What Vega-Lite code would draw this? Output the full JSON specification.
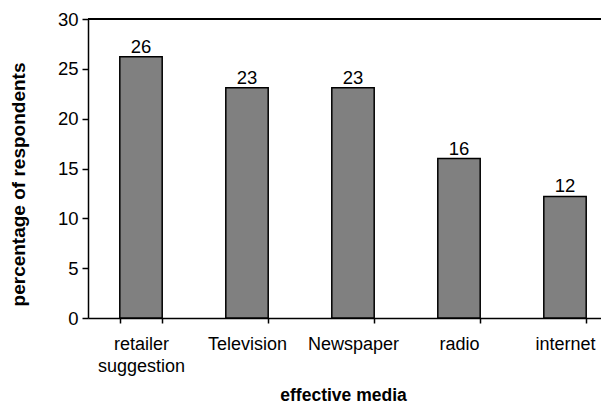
{
  "$schema": "https://vega.github.io/schema/vega-lite/v6.json",
  "width": 513,
  "height": 299,
  "autosize": {"type": "none"},
  "padding": {"left": 88, "top": 19, "right": 0, "bottom": 86},
  "background": "white",
  "config": {"view": {"stroke": null}},
  "data": {
    "values": [
      {"media": "retailer suggestion", "pct": 26.2},
      {"media": "Television", "pct": 23.1},
      {"media": "Newspaper", "pct": 23.1},
      {"media": "radio", "pct": 16.0},
      {"media": "internet", "pct": 12.2}
    ]
  },
  "layer": [
    {
      "mark": {"type": "bar", "color": "#808080", "stroke": "black", "strokeWidth": 1.5},
      "encoding": {
        "x": {
          "field": "media",
          "type": "nominal",
          "sort": null,
          "scale": {"range": [0, 530], "paddingInner": 0.6, "paddingOuter": 0.3},
          "axis": {
            "title": "effective media",
            "titleFont": "Liberation Sans",
            "titleFontWeight": "bold",
            "titleFontSize": 17.5,
            "titleColor": "black",
            "titleX": 255,
            "titleY": 77,
            "titleBaseline": "middle",
            "titleAlign": "center",
            "labelAngle": 0,
            "labelFont": "Liberation Sans",
            "labelFontSize": 18,
            "labelColor": "black",
            "labelBaseline": "alphabetic",
            "labelPadding": 26,
            "labelLineHeight": 22,
            "labelExpr": "datum.value == 'retailer suggestion' ? ['retailer', 'suggestion'] : datum.label",
            "tickBand": "extent",
            "tickSize": 5,
            "tickColor": "black",
            "tickWidth": 1.5,
            "domainColor": "black",
            "domainWidth": 1.5,
            "grid": false
          }
        },
        "y": {
          "field": "pct",
          "type": "quantitative",
          "scale": {"domain": [0, 30], "nice": false},
          "axis": {
            "title": "percentage of respondents",
            "titleFont": "Liberation Sans",
            "titleFontWeight": "bold",
            "titleFontSize": 19,
            "titleColor": "black",
            "titleAngle": -90,
            "titleX": -70,
            "titleY": 165,
            "titleAlign": "center",
            "titleBaseline": "middle",
            "values": [0, 5, 10, 15, 20, 25, 30],
            "labelFont": "Liberation Sans",
            "labelFontSize": 18.5,
            "labelColor": "black",
            "labelPadding": 4,
            "tickSize": 6,
            "tickColor": "black",
            "tickWidth": 1.5,
            "domainColor": "black",
            "domainWidth": 1.5,
            "grid": false
          }
        }
      }
    },
    {
      "mark": {"type": "text", "font": "Liberation Sans", "fontSize": 18.5, "color": "black", "baseline": "alphabetic", "dy": -4},
      "encoding": {
        "x": {"field": "media", "type": "nominal", "sort": null},
        "y": {"field": "pct", "type": "quantitative"},
        "text": {"field": "pct", "type": "quantitative", "format": ".0f"}
      }
    },
    {
      "mark": {"type": "rule", "color": "black", "strokeWidth": 1.5},
      "encoding": {"y": {"datum": 30}}
    }
  ]
}
